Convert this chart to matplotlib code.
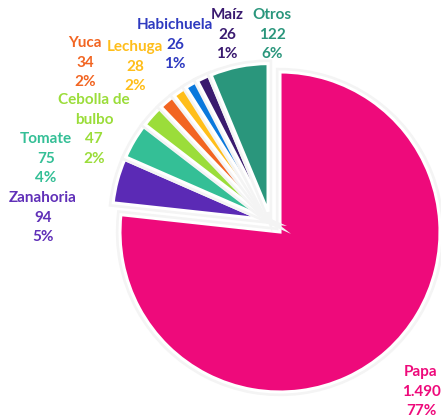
import matplotlib.pyplot as plt
import matplotlib.patheffects as pe

# Data
crops = ['Papa', 'Zanahoria', 'Tomate', 'Cebolla de\nbulbo', 'Yuca', 'Lechuga',
         'Habichuela', 'Maíz', 'Otros']
values = [1490, 94, 75, 47, 34, 28, 26, 26, 122]
value_labels = ['1.490', '94', '75', '47', '34', '28', '26', '26', '122']
pct_labels = ['77%', '5%', '4%', '2%', '2%', '2%', '1%', '1%', '6%']

slice_colors = ['#EE0A7B', '#5B2AB5', '#34BF96', '#9BDD3A', '#F26522', '#FFBE1A',
                '#0A78DC', '#3A1A6E', '#2A967C']
text_colors = ['#EE0A7B', '#6030B8', '#34BF96', '#9BDD3A', '#F26522', '#FFBE1A',
               '#2E3AC0', '#3A1A70', '#2A967C']

# first label line position in pixels (x centre from left, y from top)
label_px = [(421, 372), (43, 198), (46, 139), (94, 100), (85, 43), (135, 47),
            (175, 25), (227, 15), (272, 15)]
line_step = 19.7

W, H = 441, 417
cx, cy, R = 280, 232, 160  # pie centre / radius in pixels

fig = plt.figure(figsize=(W / 100, H / 100), dpi=100)
ax = fig.add_axes([0, 0, 1, 1])

explode = [0] + [0.0625] * (len(values) - 1)
wedges, _ = ax.pie(values, colors=slice_colors, startangle=90, counterclock=False,
                   explode=explode,
                   wedgeprops=dict(edgecolor='white', linewidth=2.2))

# small slices are pulled out as a group and drawn a bit smaller
shift = (-0.0625, 0.066)
for w in wedges[1:]:
    c = w.center
    w.set_center((c[0] + shift[0], c[1] + shift[1]))
    w.set_radius(0.925)

for w in wedges:
    w.set_path_effects([pe.Stroke(linewidth=6, foreground='#f4f4f4'), pe.Normal()])

# labels, one text per line
for name, v, p, col, (px, py) in zip(crops, value_labels, pct_labels, text_colors, label_px):
    lines = name.split('\n') + [v, p]
    for i, line in enumerate(lines):
        ax.text((px - cx) / R, (cy - py - i * line_step) / R, line, color=col,
                ha='center', va='center', fontsize=11, fontweight='bold',
                family='Lato')

ax.set_xlim(-cx / R, (W - cx) / R)
ax.set_ylim(-(H - cy) / R, cy / R)
ax.set_aspect('auto')
ax.axis('off')

fig.savefig('out.png', dpi=100)
